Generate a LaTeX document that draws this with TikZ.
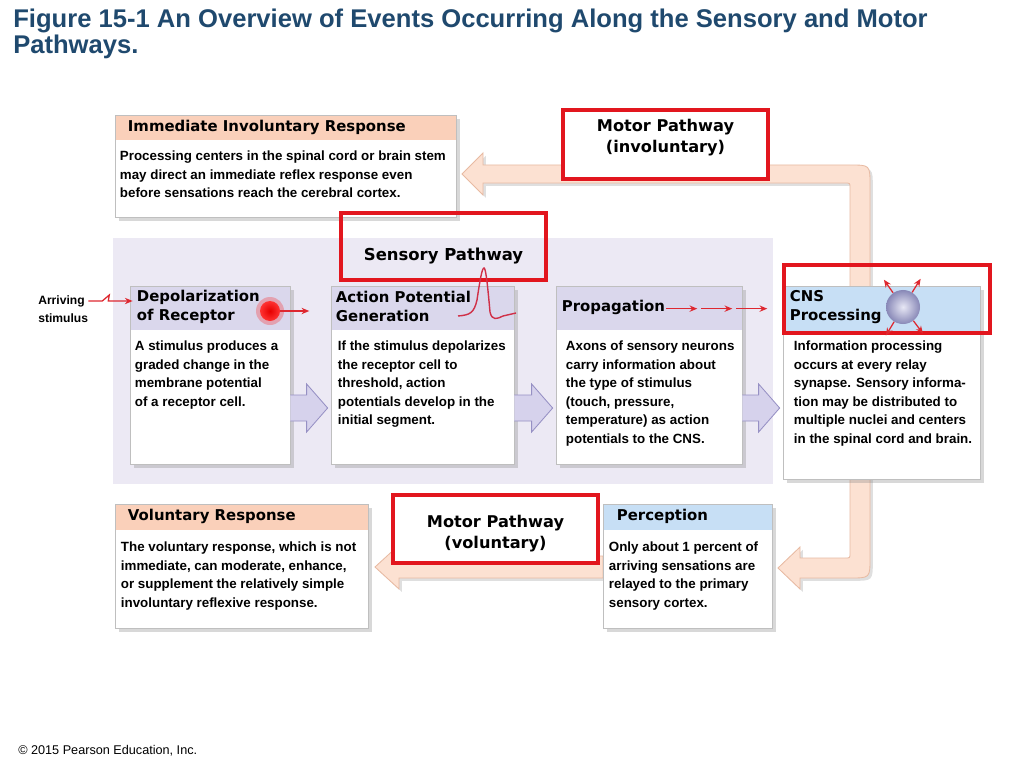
\documentclass[tikz,border=0pt]{standalone}
\usepackage{fontspec}
\setmainfont{Liberation Sans}
\newfontfamily\hdrfont{DejaVu Sans}
\usepackage{tikz}
\usetikzlibrary{calc,fit,shadows,arrows.meta}

\definecolor{titleblue}{RGB}{31,73,110}
\definecolor{hsalmon}{RGB}{250,208,186}
\definecolor{hlav}{RGB}{218,215,236}
\definecolor{hblue}{RGB}{199,223,245}
\definecolor{panel}{RGB}{236,233,244}
\definecolor{peachfill}{RGB}{252,225,210}
\definecolor{peachline}{RGB}{232,186,162}
\definecolor{blkfill}{RGB}{214,210,236}
\definecolor{blkline}{RGB}{150,144,196}
\definecolor{framered}{RGB}{226,22,30}
\definecolor{arrred}{RGB}{222,40,48}
\definecolor{wavered}{RGB}{208,48,72}
\definecolor{sphcol}{RGB}{160,160,215}

\begin{document}
\begin{tikzpicture}[x=0.025cm,y=-0.025cm,
  box/.style={draw=black!25,fill=white,inner sep=0pt,line width=0.5pt,
    drop shadow={opacity=0.3,shadow xshift=2.5pt,shadow yshift=-2.5pt}},
  hbox/.style 2 args={box,path picture={\fill[#1] (path picture bounding box.north west) rectangle ($(path picture bounding box.north east)+(0,#2)$);}},
  body/.style={anchor=north west,inner sep=0pt,align=left,font=\fontsize{9.5}{13.2}\selectfont\bfseries},
  hdr/.style={anchor=west,inner sep=0pt,align=left,font=\fontsize{10.6}{13.5}\selectfont\hdrfont\bfseries},
  bighdr/.style={inner sep=0pt,align=center,font=\fontsize{11.5}{15}\selectfont\hdrfont\bfseries},
  redbox/.style={draw=framered,line width=2.2pt,inner sep=0pt},
  redarr/.style={draw=arrred,line width=0.9pt,-{Stealth[length=5.5pt,width=4.5pt]}},
  blk/.style={draw=blkline,fill=blkfill,line width=0.6pt},
  peach/.style={draw=peachline,fill=peachfill,line width=0.6pt,
    drop shadow={opacity=0.25,shadow xshift=2pt,shadow yshift=-2pt}}]

\fill[white] (0,0) rectangle (1024,768);
\useasboundingbox (0,0) rectangle (1024,768);

\node[anchor=north west,inner sep=0pt,align=left,text=titleblue,font=\fontsize{18.2}{18.6}\selectfont\bfseries] (title) at (13,9)
  {Figure 15-1 An Overview of Events Occurring Along the Sensory and Motor\\Pathways.};
\node[anchor=base west,inner sep=0pt,font=\fontsize{9}{11}\selectfont] (copyr) at (18,754) {© 2015 Pearson Education, Inc.};

% sensory panel
\fill[panel] (113,238) rectangle (773,484);

% motor pathway arrows
\draw[peach] (462,174) -- (483,153) -- (483,165) -- (850,165) .. controls (870,165) .. (870,185)
  -- (870,558) .. controls (870,578) .. (850,578) -- (800,578) -- (800,589) -- (778,568) -- (800,547)
  -- (800,558) -- (845,558) .. controls (850,558) .. (850,553) -- (850,188) .. controls (850,183) .. (845,183)
  -- (483,183) -- (483,195) -- cycle;
\draw[peach] (375,567) -- (399,545) -- (399,556) -- (603,556) -- (603,578) -- (399,578) -- (399,589) -- cycle;

% boxes
\node[hbox={hsalmon}{25},fit={(115,115) (456,217)}] (immed) {};
\node[hbox={hlav}{44},fit={(130,286) (290,464)}] (depol) {};
\node[hbox={hlav}{44},fit={(331,286) (514,464)}] (apgen) {};
\node[hbox={hlav}{44},fit={(556,286) (742,464)}] (prop) {};
\node[hbox={hblue}{46},fit={(783,286) (980,479)}] (cns) {};
\node[hbox={hsalmon}{26},fit={(115,504) (368,628)}] (volun) {};
\node[hbox={hblue}{26},fit={(603,504) (772,628)}] (percep) {};

\foreach \a/\b in {depol/apgen,apgen/prop,prop/cns}{
  \path (\a.east |- 0,408) coordinate (s) (\b.west |- 0,408) coordinate (t);
  \draw[blk] ($(s)+(0,-13)$) -- ($(t)+(-24,-13)$) -- ($(t)+(-24,-24)$) -- ($(t)+(-3,0)$)
    -- ($(t)+(-24,24)$) -- ($(t)+(-24,13)$) -- ($(s)+(0,13)$);
}

% texts
\node[hdr] at ($(immed.north west)+(13,12.5)$) {Immediate Involuntary Response};
\node[body] at ($(immed.north west)+(5,36)$) {Processing centers in the spinal cord or brain stem\\may direct an immediate reflex response even\\before sensations reach the cerebral cortex.};

\node[hdr] at ($(depol.north west)+(7,21)$) {Depolarization\\of Receptor};
\node[body] at ($(depol.north west)+(5,55)$) {A stimulus produces a\\graded change in the\\membrane potential\\of a receptor cell.};

\node[hdr] at ($(apgen.north west)+(5,21)$) {Action Potential\\Generation};
\node[body] at ($(apgen.north west)+(7,55)$) {If the stimulus depolarizes\\the receptor cell to\\threshold, action\\potentials develop in the\\initial segment.};

\node[hdr] (prophdr) at ($(prop.north west)+(6,22)$) {Propagation};
\node[body] at ($(prop.north west)+(10,55)$) {Axons of sensory neurons\\carry information about\\the type of stimulus\\(touch, pressure,\\temperature) as action\\potentials to the CNS.};

\node[hdr] at ($(cns.north west)+(7,21)$) {CNS\\Processing};
\node[body] at ($(cns.north west)+(11,55)$) {Information processing\\occurs at every relay\\synapse. Sensory informa-\\tion may be distributed to\\multiple nuclei and centers\\in the spinal cord and brain.};

\node[hdr] at ($(volun.north west)+(13,13)$) {Voluntary Response};
\node[body] at ($(volun.north west)+(6,38)$) {The voluntary response, which is not\\immediate, can moderate, enhance,\\or supplement the relatively simple\\involuntary reflexive response.};

\node[hdr] at ($(percep.north west)+(14,13)$) {Perception};
\node[body] at ($(percep.north west)+(6,38)$) {Only about 1 percent of\\arriving sensations are\\relayed to the primary\\sensory cortex.};

% arriving stimulus
\node[anchor=north west,inner sep=0pt,align=left,font=\fontsize{8.6}{12.8}\selectfont\bfseries] (arriv) at (38,295) {Arriving\\stimulus};
\draw[redarr] ($(arriv.north east)+(0,6)$) -- ++(14,0) -- ++(7,-6) -- ++(-1,6) -- ($(depol.west |- 0,301)+(3,0)$);

% red frames
\node[redbox,fill=white,fit={(563,110) (768,179)}] (motinv) {};
\node[bighdr] at ($(motinv.north)+(0,29)$) {Motor Pathway\\(involuntary)};
\node[redbox,fit={(341,213) (546,280)}] (sensp) {};
\node[bighdr,font=\fontsize{11.7}{14}\selectfont\hdrfont\bfseries] at ($(sensp.north)+(0,45)$) {Sensory Pathway};
\node[redbox,fit={(784,265) (990,333)}] (cnsframe) {};
\node[redbox,fill=white,fit={(393,495) (598,563)}] (motvol) {};
\node[bighdr] at ($(motvol.north)+(0,40)$) {Motor Pathway\\(voluntary)};

% receptor dot, action potential, propagation
\fill[red,opacity=0.25] (270,311) circle (14);
\node[circle,minimum size=0.5cm,inner sep=0pt,inner color=red!90!black,outer color=red!80] (dot) at (270,311) {};
\draw[redarr] (dot.east) -- ++(29,0);
\draw[wavered,line width=1pt] (458,316) .. controls (470,315) and (474,313) .. (477,300)
  .. controls (480,280) and (482,268) .. (484,268) .. controls (486,268) and (488,290) .. (490,312)
  .. controls (492,321) and (497,319) .. (503,316) -- (516,313);
\foreach \i in {0,1,2}
  \draw[redarr] ($(prophdr.east)+(35*\i+1,1)$) -- ++(31,0);

% CNS
\node[circle,minimum size=0.85cm,inner sep=0pt,inner color=white!75!sphcol,outer color=sphcol!85!black] (sphere) at (903,307) {};
\foreach \a in {125,58,239,307}
  \draw[redarr] (sphere.\a) -- ++(-\a:16);

\end{tikzpicture}
\end{document}
